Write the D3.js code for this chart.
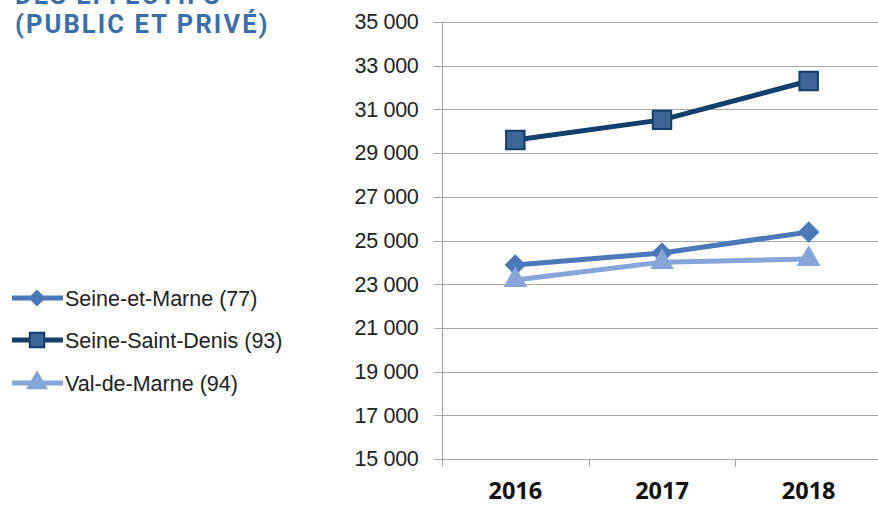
<!DOCTYPE html>
<html><head><meta charset="utf-8">
<script src="https://cdn.jsdelivr.net/npm/d3@7"></script>
<style>body{margin:0;background:#fff;}svg{display:block;}</style>
</head><body>
<svg id="c" width="878" height="506"></svg>
<script>
const years = ["2016", "2017", "2018"];
const seineEtMarne = [23880, 24430, 25390];
const seineSaintDenis = [29600, 30520, 32300];
const valDeMarne = [23190, 24010, 24150];
const yTicks = [15000, 17000, 19000, 21000, 23000, 25000, 27000, 29000, 31000, 33000, 35000];
const seriesNames = ["Seine-et-Marne (77)", "Seine-Saint-Denis (93)", "Val-de-Marne (94)"];
const titleLines = ["DES EFFECTIFS", "(PUBLIC ET PRIVÉ)"];

const series = [
  {name: seriesNames[0], values: seineEtMarne, color: "#4a78b8", fill: "#4a78b8", stroke: "#4a78b8", shape: "diamond"},
  {name: seriesNames[1], values: seineSaintDenis, color: "#123f6b", fill: "#3d6596", stroke: "#123f6b", shape: "square"},
  {name: seriesNames[2], values: valDeMarne, color: "#86a6da", fill: "#86a6da", stroke: "#86a6da", shape: "triangle"}
];

const svg = d3.select("#c");
const x0 = 442, x1 = 882, yTop = 22, yBot = 459;
const x = d3.scaleBand().domain(years).range([x0, x1]);
const y = d3.scaleLinear().domain([15000, 35000]).range([yBot, yTop]);

// title (first line is cut off at the top edge, as in the reference)
const tt = svg.append("text").attr("font-family", "Roboto, 'Open Sans', sans-serif")
  .attr("font-weight", 700).attr("font-size", 25.5).attr("fill", "#3a6ea8").attr("letter-spacing", 2.1);
tt.append("tspan").attr("x", 15).attr("y", 4).text(titleLines[0]);
tt.append("tspan").attr("x", 15).attr("y", 33).text(titleLines[1]);

// gridlines
svg.append("g").selectAll("line").data(yTicks).join("line")
  .attr("x1", 434).attr("x2", 878).attr("y1", d => Math.round(y(d)) + 0.5).attr("y2", d => Math.round(y(d)) + 0.5)
  .attr("stroke", "#a8a8a8").attr("stroke-width", 1);

// y axis
const yAxis = svg.append("g").attr("transform", `translate(${x0 + 0.5},0)`)
  .call(d3.axisLeft(y).tickValues(yTicks).tickSize(0).tickPadding(24).tickFormat(d => d3.format(",")(d).replace(",", " ")));
yAxis.select(".domain").attr("stroke", "#a0a0a0").attr("d", `M0,${yTop}V${yBot}`);
yAxis.selectAll("text").attr("font-family", "'Liberation Sans', 'Open Sans', sans-serif").attr("font-size", 21.5)
  .attr("fill", "#222").attr("letter-spacing", -0.3);

// x axis
const xAxis = svg.append("g").attr("transform", `translate(0,${Math.round(yBot) + 0.5})`)
  .call(d3.axisBottom(x).tickSize(0).tickPadding(23));
xAxis.select(".domain").remove();
xAxis.selectAll("text").attr("font-family", "'Open Sans', 'Liberation Sans', sans-serif").attr("font-weight", 700)
  .attr("font-size", 23.5).attr("fill", "#111");
svg.append("g").selectAll("line").data(years).join("line")
  .attr("x1", d => Math.round(x(d)) + 0.5).attr("x2", d => Math.round(x(d)) + 0.5)
  .attr("y1", yBot).attr("y2", yBot + 8).attr("stroke", "#a0a0a0");

const cx = d => x(d) + x.bandwidth() / 2;
const diamondType = d3.symbolDiamond2 || d3.symbolDiamond;
const sym = {
  diamond: d3.symbol().type(diamondType).size(220),
  square: d3.symbol().type(d3.symbolSquare).size(340),
  triangle: d3.symbol().type(d3.symbolTriangle).size(180)
};

const line = d3.line().x(d => cx(d[0])).y(d => y(d[1]));
series.forEach(s => {
  const pts = years.map((yr, i) => [yr, s.values[i]]);
  svg.append("path").datum(pts).attr("d", line).attr("fill", "none")
    .attr("stroke", s.color).attr("stroke-width", 5).attr("stroke-linejoin", "round");
  svg.append("g").selectAll("path").data(pts).join("path")
    .attr("transform", d => `translate(${cx(d[0])},${y(d[1])})`)
    .attr("d", sym[s.shape]).attr("fill", s.fill).attr("stroke", s.stroke).attr("stroke-width", 2);
});

// legend
const legY = [298, 340, 383];
series.forEach((s, i) => {
  const g = svg.append("g").attr("transform", `translate(0,${legY[i]})`);
  g.append("line").attr("x1", 12).attr("x2", 63).attr("y1", 0).attr("y2", 0)
    .attr("stroke", s.color).attr("stroke-width", 5);
  const ls = d3.symbol().type(s.shape === "diamond" ? diamondType : s.shape === "square" ? d3.symbolSquare : d3.symbolTriangle)
    .size(s.shape === "diamond" ? 130 : s.shape === "square" ? 210 : 150);
  g.append("path").attr("transform", "translate(37,0)").attr("d", ls)
    .attr("fill", s.fill).attr("stroke", s.stroke).attr("stroke-width", 2);
  g.append("text").attr("x", 65).attr("y", 7.5).attr("font-family", "'Liberation Sans', 'Open Sans', sans-serif")
    .attr("font-size", 21.5).attr("fill", "#222").text(s.name);
});
</script>
</body></html>
